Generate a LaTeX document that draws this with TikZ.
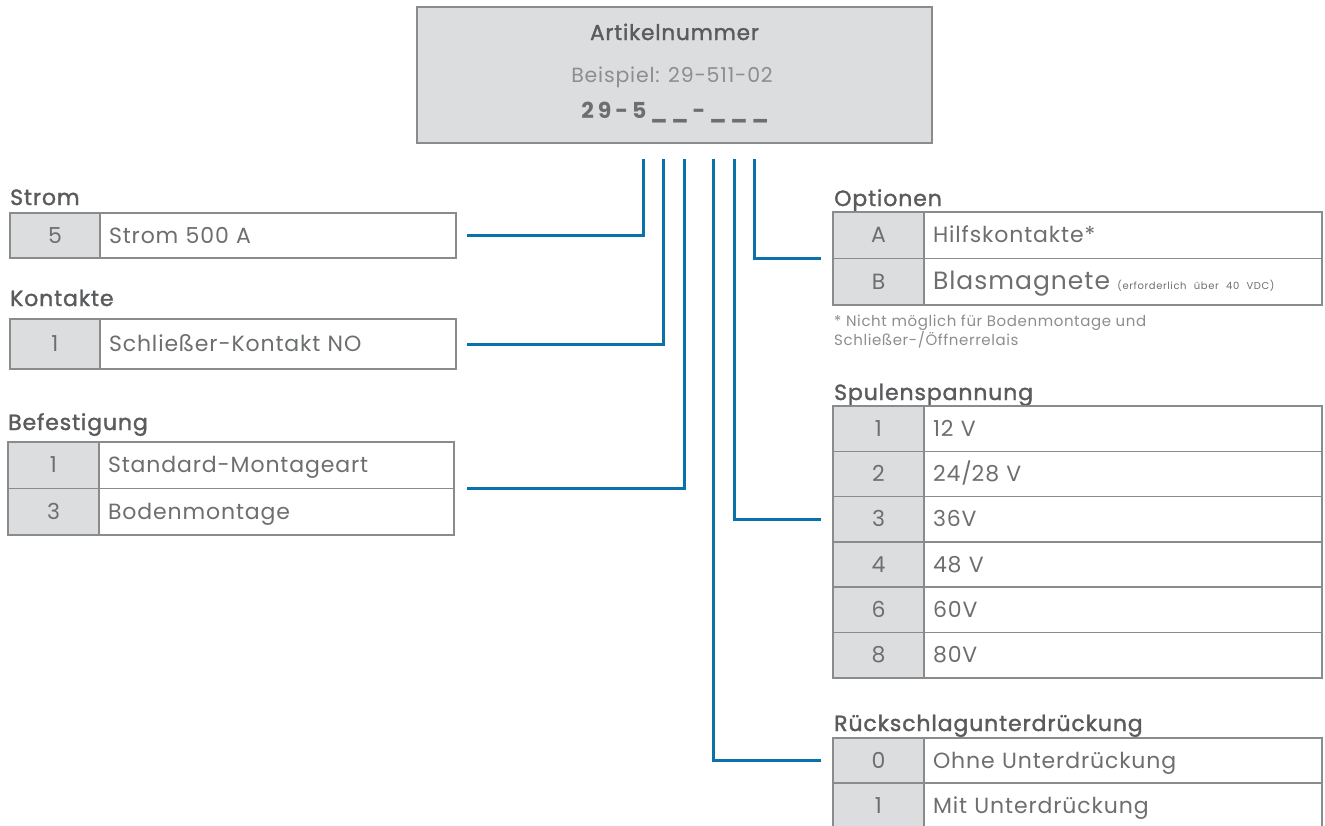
\documentclass[tikz,border=0pt]{standalone}
\usepackage{fontspec}
\setmainfont{Poppins}[LetterSpace=4]
\newfontfamily\headfont[FakeBold=1.5,LetterSpace=4]{Poppins}
\usetikzlibrary{positioning}

\definecolor{boxgray}{HTML}{DCDDDF}
\definecolor{rulegray}{HTML}{8A8B8D}
\definecolor{txtgray}{HTML}{6D6E70}
\definecolor{headgray}{HTML}{5A5B5D}
\definecolor{notegray}{HTML}{8C8D8F}
\definecolor{linkblue}{HTML}{0A72A8}

\tikzset{
  cellfont/.style={font=\fontsize{22}{26}\selectfont, text=txtgray, text height=15pt, text depth=0pt},
  codecell/.style 2 args={draw=rulegray, fill=boxgray, line width=1.5pt, cellfont, outer sep=0pt,
    minimum width=#1, minimum height=#2, inner sep=0pt, anchor=north west},
  desccell/.style 2 args={draw=rulegray, line width=1.5pt, cellfont, align=left, outer sep=0pt,
    text width=#1-18pt, inner xsep=9pt, inner ysep=0pt, minimum height=#2, anchor=north west},
  head/.style={font=\headfont\fontsize{22}{26}\selectfont, text=headgray, inner sep=0pt, anchor=base west},
  link/.style={draw=linkblue, line width=3pt},
}

\begin{document}
\begin{tikzpicture}[x=1pt, y=-1pt]
  \useasboundingbox (0,0) rectangle (1325,825);

  % Artikelnummer
  \node (artbox) [draw=rulegray, fill=boxgray, line width=1.5pt, outer sep=0pt, minimum width=515pt,
    minimum height=136pt, anchor=north west] at (417,7) {};
  \node (arttitle) [anchor=base, text=headgray, font=\headfont\fontsize{21.5}{24}\selectfont] at (674.5,40) {Artikelnummer};
  \node (artbsp) [anchor=base, text=notegray, font=\fontsize{20.5}{24}\selectfont] at (672,82) {Beispiel: 29-511-02};
  \node (artcode) [anchor=base, text=txtgray, font=\bfseries\fontsize{22}{24}\selectfont\addfontfeatures{LetterSpace=18}] at (675,118) {29-5\_\_-\_\_\_};

  % Strom
  \node (stromhead) [head] at (10,205) {Strom};
  \node (strom5) [codecell={90pt}{45pt}] at (10,213) {5};
  \node (strom5d) [desccell={356pt}{45pt}] at (strom5.north east) {Strom 500 A};

  % Kontakte
  \node (konthead) [head] at (10,306) {Kontakte};
  \node (kont1) [codecell={90pt}{50pt}] at (10,319) {1};
  \node (kont1d) [desccell={356pt}{50pt}] at (kont1.north east) {Schließer-Kontakt NO};

  % Befestigung
  \node (befhead) [head] at (8,430) {Befestigung};
  \node (bef1) [codecell={91pt}{46.5pt}] at (8,442) {1};
  \node (bef1d) [desccell={355pt}{46.5pt}] at (bef1.north east) {Standard-Montageart};
  \node (bef3) [codecell={91pt}{46.5pt}] at (bef1.south west) {3};
  \node (bef3d) [desccell={355pt}{46.5pt}] at (bef3.north east) {Bodenmontage};

  % Optionen
  \node (opthead) [head] at (834,206) {Optionen};
  \node (optA) [codecell={91pt}{46.5pt}] at (833,212) {A};
  \node (optAd) [desccell={398pt}{46.5pt}] at (optA.north east) {Hilfskontakte*};
  \node (optB) [codecell={91pt}{46.5pt}] at (optA.south west) {B};
  \node (optBd) [desccell={398pt}{46.5pt}] at (optB.north east)
    {{\fontsize{25}{28}\selectfont Blasmagnete} {\fontsize{10}{12}\selectfont\addfontfeatures{LetterSpace=6}(erforderlich über 40 VDC)}};
  \node (optnote) [anchor=north west, inner sep=0pt, align=left, text=notegray,
    font=\fontsize{15}{16}\selectfont] at (834,315) {* Nicht möglich für Bodenmontage und\\Schließer-/Öffnerrelais};

  % Spulenspannung
  \node (spuhead) [head] at (834,400) {Spulenspannung};
  \coordinate (spu0) at (833,406);
  \foreach \k/\v [remember=\k as \last (initially 0)] in {1/12 V, 2/24\slash28 V, 3/36V, 4/48 V, 6/60V, 8/80V} {
    \ifnum\last=0
      \node (spu\k) [codecell={91pt}{45.3pt}] at (spu0) {\k};
    \else
      \node (spu\k) [codecell={91pt}{45.3pt}] at (spu\last.south west) {\k};
    \fi
    \node (spu\k d) [desccell={398pt}{45.3pt}] at (spu\k.north east) {\v};
  }

  % Rückschlagunterdrückung
  \node (ruehead) [head] at (834,731) {Rückschlagunterdrückung};
  \node (rue0) [codecell={91pt}{45pt}] at (833,738) {0};
  \node (rue0d) [desccell={398pt}{45pt}] at (rue0.north east) {Ohne Unterdrückung};
  \node (rue1) [codecell={91pt}{45pt}] at (rue0.south west) {1};
  \node (rue1d) [desccell={398pt}{45pt}] at (rue1.north east) {Mit Unterdrückung};

  % connectors
  \coordinate (c1) at (643,159);
  \coordinate (c2) at (663,159);
  \coordinate (c3) at (684,159);
  \coordinate (c4) at (713,159);
  \coordinate (c5) at (734,159);
  \coordinate (c6) at (754,159);
  \draw[link] (c1) |- ([xshift=11pt]strom5d.east);
  \draw[link] (c2) |- ([xshift=11pt]kont1d.east);
  \draw[link] (c3) |- ([xshift=13pt]bef1d.south east);
  \draw[link] (c6) |- ([xshift=-12pt]optA.south west);
  \draw[link] (c5) |- ([xshift=-12pt]spu3.west);
  \draw[link] (c4) |- ([xshift=-12pt]rue0.west);
\end{tikzpicture}
\end{document}
